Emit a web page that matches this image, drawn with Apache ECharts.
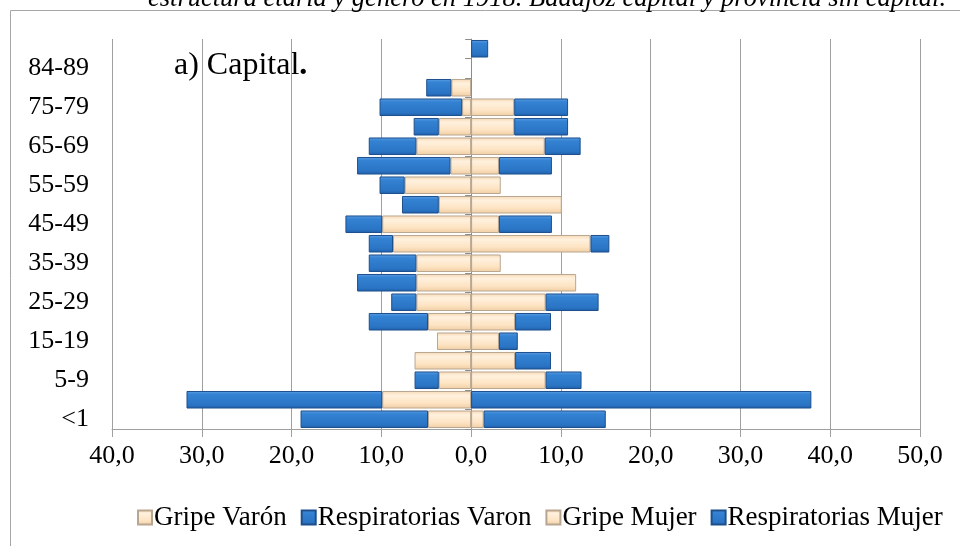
<!DOCTYPE html>
<html>
<head>
<meta charset="utf-8">
<script src="https://cdn.jsdelivr.net/npm/echarts@6/dist/echarts.min.js"></script>
<style>
  html, body { margin: 0; padding: 0; background: #ffffff; }
  #chart { width: 960px; height: 546px; }
</style>
</head>
<body>
<div id="chart"></div>
<script>
// Age groups, bottom to top
var ageGroups = ["<1", "1-4", "5-9", "10-14", "15-19", "20-24", "25-29", "30-34", "35-39", "40-44",
                 "45-49", "50-54", "55-59", "60-64", "65-69", "70-74", "75-79", "80-84", "84-89", "90+"];

// Mortality rates by cause and sex (men drawn to the left)
var gripeVaron          = [4.8, 9.9, 3.6, 6.3, 3.8, 4.8, 6.1, 6.1, 6.1, 8.7, 9.9, 3.6, 7.4, 2.3, 6.1, 3.6, 1.0, 2.2, 0, 0];
var respiratoriasVaron  = [14.2, 21.8, 2.7, 0, 0, 6.6, 2.8, 6.6, 5.3, 2.7, 4.1, 4.1, 2.8, 10.4, 5.3, 2.8, 9.2, 2.8, 0, 0];
var gripeMujer          = [1.4, 0, 8.3, 4.9, 3.1, 4.9, 8.3, 11.7, 3.3, 13.3, 3.1, 10.1, 3.3, 3.1, 8.2, 4.8, 4.8, 0, 0, 0];
var respiratoriasMujer  = [13.6, 37.9, 4.0, 4.0, 2.1, 4.0, 5.9, 0, 0, 2.1, 5.9, 0, 0, 5.9, 4.0, 6.0, 6.0, 0, 0, 1.9];

var seriesNames = ["Gripe Varón", "Respiratorias Varon", "Gripe Mujer", "Respiratorias Mujer"];

var chart = echarts.init(document.getElementById('chart'), null, { renderer: 'canvas' });

var SERIF = '"Liberation Serif", "Times New Roman", serif';

function peachFill() {
  return new echarts.graphic.LinearGradient(0, 0, 0, 1, [
    { offset: 0, color: '#f6d7b2' },
    { offset: 0.25, color: '#fff1de' },
    { offset: 0.7, color: '#fde3c2' },
    { offset: 1, color: '#efcda2' }
  ]);
}
function blueFill() {
  return new echarts.graphic.LinearGradient(0, 0, 0, 1, [
    { offset: 0, color: '#5b9ee3' },
    { offset: 0.2, color: '#3482d3' },
    { offset: 0.8, color: '#2a74c4' },
    { offset: 1, color: '#1f5ea9' }
  ]);
}

// Men's values are negated so they extend to the left of zero; empty cells are skipped
function left(arr) { return arr.map(function (v) { return v ? -v : '-'; }); }
function right(arr) { return arr.map(function (v) { return v ? v : '-'; }); }

function barSeries(name, data, stack, fill, border) {
  return {
    name: name,
    type: 'bar',
    stack: stack,
    yAxisIndex: 0,
    data: data,
    barGap: '-100%',
    barCategoryGap: '10%',
    itemStyle: { color: fill, borderColor: border, borderWidth: 1 },
    emphasis: { disabled: true }
  };
}

var option = {
  animation: false,
  backgroundColor: '#ffffff',
  textStyle: { fontFamily: SERIF },
  graphic: [
    {
      type: 'rect',
      shape: { x: 10.5, y: 10.5, width: 1000, height: 600 },
      style: { fill: 'none', stroke: '#a6a6a6', lineWidth: 1 },
      silent: true
    },
    {
      type: 'text',
      x: 148, y: -1,
      style: {
        text: 'estructura etaria y género en 1918. Badajoz capital y provincia sin capital.',
        font: 'italic 26.5px ' + SERIF,
        fill: '#000000',
        verticalAlign: 'middle',
        align: 'left'
      },
      silent: true
    },
    {
      type: 'text',
      x: 174, y: 66,
      style: {
        text: '{n|a) Capital}{b|.}',
        verticalAlign: 'middle',
        align: 'left',
        rich: {
          n: { fontFamily: SERIF, fontSize: 32, color: '#000' },
          b: { fontFamily: SERIF, fontSize: 32, fontWeight: 'bold', color: '#000' }
        }
      },
      silent: true
    }
  ],
  legend: {
    data: seriesNames,
    left: 132,
    top: 499,
    itemWidth: 14,
    itemHeight: 14,
    itemGap: 14,
    icon: 'rect',
    textStyle: { fontFamily: SERIF, fontSize: 27, color: '#000', padding: [0, 0, 0, -3] },
    selectedMode: false
  },
  grid: { left: 112, right: 40, top: 39, bottom: 117, containLabel: false },
  xAxis: {
    type: 'value',
    min: -40,
    max: 50,
    interval: 10,
    axisLine: { show: true, onZero: false, lineStyle: { color: '#a0a0a0', width: 1 } },
    axisTick: { show: true, length: 8, lineStyle: { color: '#a0a0a0' } },
    splitLine: { show: true, lineStyle: { color: '#a0a0a0', width: 1 } },
    axisLabel: {
      margin: 14,
      fontFamily: SERIF,
      fontSize: 26,
      color: '#000',
      formatter: function (v) { return Math.abs(v).toFixed(1).replace('.', ','); }
    }
  },
  yAxis: [
    {
      type: 'category',
      data: ageGroups,
      position: 'left',
      axisLine: { show: false, onZero: false },
      axisTick: { show: false },
      axisLabel: {
        interval: 1,
        margin: 23,
        fontFamily: SERIF,
        fontSize: 26,
        color: '#000',
        padding: [3, 0, 0, 0]
      }
    },
    {
      type: 'category',
      data: ageGroups,
      position: 'right',
      axisLine: { show: true, onZero: true, lineStyle: { color: '#8c8c8c', width: 1 } },
      axisTick: { show: true, inside: true, length: 6, lineStyle: { color: '#8c8c8c' } },
      axisLabel: { show: false }
    }
  ],
  series: [
    barSeries(seriesNames[0], left(gripeVaron), 'varon', peachFill(), '#b9a690'),
    barSeries(seriesNames[1], left(respiratoriasVaron), 'varon', blueFill(), '#1d4f8c'),
    barSeries(seriesNames[2], right(gripeMujer), 'mujer', peachFill(), '#b9a690'),
    barSeries(seriesNames[3], right(respiratoriasMujer), 'mujer', blueFill(), '#1d4f8c')
  ]
};

chart.setOption(option);
</script>
</body>
</html>
